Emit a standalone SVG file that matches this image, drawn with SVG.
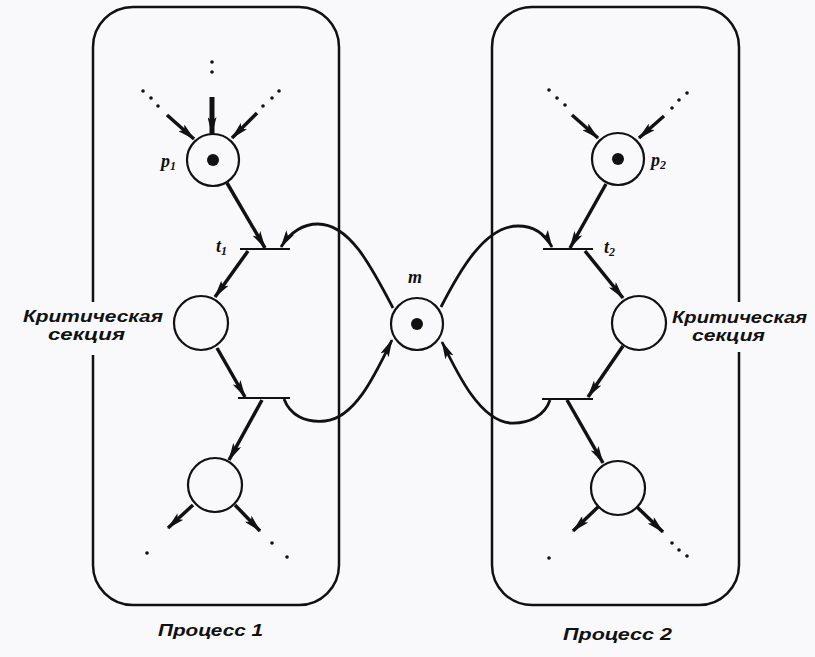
<svg xmlns="http://www.w3.org/2000/svg" width="815" height="657" viewBox="0 0 815 657">
<defs>
<marker id="ah" viewBox="0 0 18 9" refX="17" refY="4.5" markerWidth="18" markerHeight="9" markerUnits="userSpaceOnUse" orient="auto">
<path d="M0,0 L18,4.5 L0,9 L4,4.5 z" fill="#111"/>
</marker>
<style>
.box{fill:none;stroke:#111;stroke-width:2.5}
.pl{fill:none;stroke:#111;stroke-width:2.2}
.tk{fill:#111}
.tr{stroke:#111;stroke-width:2.2}
.ar{fill:none;stroke:#111;stroke-width:3.5;marker-end:url(#ah)}
.cv{fill:none;stroke:#111;stroke-width:2.8;marker-end:url(#ah)}
.dot{fill:#111}
.lbl{font-family:"Liberation Sans",Arial,sans-serif;font-weight:bold;font-style:italic;font-size:17px;fill:#111}
.var{font-family:"Liberation Serif","Times New Roman",serif;font-weight:bold;font-style:italic;font-size:18px;fill:#111}
.sub{font-size:12px}
</style>
</defs>
<rect width="815" height="657" fill="#f9f9fb"/>

<g id="process1">
<path class="box" d="M93,355 L93,565 A40,40 0 0 0 133,605 L299,605 A40,40 0 0 0 339,565 L339,47 A40,40 0 0 0 299,7 L133,7 A40,40 0 0 0 93,47 L93,302"/>
<text class="lbl" x="158" y="636" textLength="105" lengthAdjust="spacingAndGlyphs">Процесс 1</text>
</g>
<g id="process2">
<path class="box" d="M739,302 L739,47 A40,40 0 0 0 699,7 L532,7 A40,40 0 0 0 492,47 L492,565 A40,40 0 0 0 532,605 L699,605 A40,40 0 0 0 739,565 L739,352"/>
<text class="lbl" x="563" y="640" textLength="109" lengthAdjust="spacingAndGlyphs">Процесс 2</text>
</g>

<g id="p1">
<circle class="pl" cx="213" cy="160" r="26"/>
<circle class="tk" cx="213" cy="160" r="6"/>
<text class="var" x="161" y="167">p<tspan class="sub" dy="3">1</tspan></text>
</g>
<g id="t1">
<line class="tr" x1="240" y1="249" x2="290" y2="249"/>
<text class="var" x="216" y="252">t<tspan class="sub" dy="3">1</tspan></text>
</g>
<g id="cs1">
<circle class="pl" cx="201" cy="323" r="27"/>
<text class="lbl" x="23" y="322" textLength="140" lengthAdjust="spacingAndGlyphs">Критическая</text>
<text class="lbl" x="48" y="340" textLength="77" lengthAdjust="spacingAndGlyphs">секция</text>
</g>
<g id="t1b">
<line class="tr" x1="238" y1="398" x2="290" y2="398"/>
</g>
<g id="q1">
<circle class="pl" cx="215" cy="485" r="27"/>
</g>

<g id="m">
<circle class="pl" cx="417" cy="324" r="26"/>
<circle class="tk" cx="417" cy="324" r="6"/>
<text class="var" x="415" y="283" text-anchor="middle">m</text>
</g>

<g id="p2">
<circle class="pl" cx="618" cy="159" r="26"/>
<circle class="tk" cx="618" cy="159" r="6"/>
<text class="var" x="651" y="166">p<tspan class="sub" dy="3">2</tspan></text>
</g>
<g id="t2">
<line class="tr" x1="543" y1="249" x2="593" y2="249"/>
<text class="var" x="604" y="253">t<tspan class="sub" dy="3">2</tspan></text>
</g>
<g id="cs2">
<circle class="pl" cx="639" cy="323" r="27"/>
<text class="lbl" x="672" y="323" textLength="135" lengthAdjust="spacingAndGlyphs">Критическая</text>
<text class="lbl" x="692" y="341" textLength="73" lengthAdjust="spacingAndGlyphs">секция</text>
</g>
<g id="t2b">
<line class="tr" x1="542" y1="399" x2="593" y2="399"/>
</g>
<g id="q2">
<circle class="pl" cx="618" cy="488" r="27"/>
</g>

<g id="connectors">
<line class="ar" style="stroke-width:5" x1="212" y1="97" x2="212" y2="134"/>
<line class="ar" x1="167" y1="115" x2="194" y2="139"/>
<line class="ar" x1="257" y1="113" x2="232" y2="138"/>
<line class="ar" x1="227" y1="183" x2="265" y2="248"/>
<line class="ar" x1="248" y1="251" x2="215" y2="297"/>
<line class="ar" x1="217" y1="348" x2="245" y2="397"/>
<line class="ar" x1="262" y1="400" x2="229" y2="460"/>
<line class="ar" x1="193" y1="505" x2="168" y2="528"/>
<line class="ar" x1="235" y1="505" x2="260" y2="531"/>

<line class="ar" x1="572" y1="115" x2="598" y2="138"/>
<line class="ar" x1="664" y1="116" x2="639" y2="138"/>
<line class="ar" x1="606" y1="184" x2="570" y2="248"/>
<line class="ar" x1="585" y1="251" x2="623" y2="298"/>
<line class="ar" x1="623" y1="346" x2="588" y2="397"/>
<line class="ar" x1="567" y1="400" x2="603" y2="463"/>
<line class="ar" x1="598" y1="507" x2="573" y2="531"/>
<line class="ar" x1="637" y1="507" x2="663" y2="532"/>

<path class="cv" d="M393,308 C372,268 350,224 318,224 C300,224 288,236 281,247"/>
<path class="cv" d="M284,399 C290,415 305,423 325,421 C355,418 375,375 392,340"/>
<path class="cv" d="M441,307 C460,270 485,226 518,226 C535,226 546,236 552,247"/>
<path class="cv" d="M550,400 C545,415 530,424 510,423 C480,420 458,375 442,342"/>

<circle class="dot" cx="212" cy="62" r="1.8"/>
<circle class="dot" cx="212" cy="72" r="1.8"/>
<circle class="dot" cx="143" cy="91" r="1.8"/>
<circle class="dot" cx="151" cy="98" r="1.8"/>
<circle class="dot" cx="158" cy="106" r="1.8"/>
<circle class="dot" cx="279" cy="91" r="1.8"/>
<circle class="dot" cx="272" cy="98" r="1.8"/>
<circle class="dot" cx="263" cy="106" r="1.8"/>
<circle class="dot" cx="549" cy="90" r="1.8"/>
<circle class="dot" cx="557" cy="98" r="1.8"/>
<circle class="dot" cx="565" cy="105" r="1.8"/>
<circle class="dot" cx="687" cy="93" r="1.8"/>
<circle class="dot" cx="679" cy="100" r="1.8"/>
<circle class="dot" cx="672" cy="108" r="1.8"/>
<circle class="dot" cx="147" cy="553" r="1.8"/>
<circle class="dot" cx="272" cy="543" r="1.8"/>
<circle class="dot" cx="287" cy="557" r="1.8"/>
<circle class="dot" cx="549" cy="558" r="1.8"/>
<circle class="dot" cx="672" cy="543" r="1.8"/>
<circle class="dot" cx="679" cy="550" r="1.8"/>
<circle class="dot" cx="687" cy="556" r="1.8"/>
</g>
</svg>
